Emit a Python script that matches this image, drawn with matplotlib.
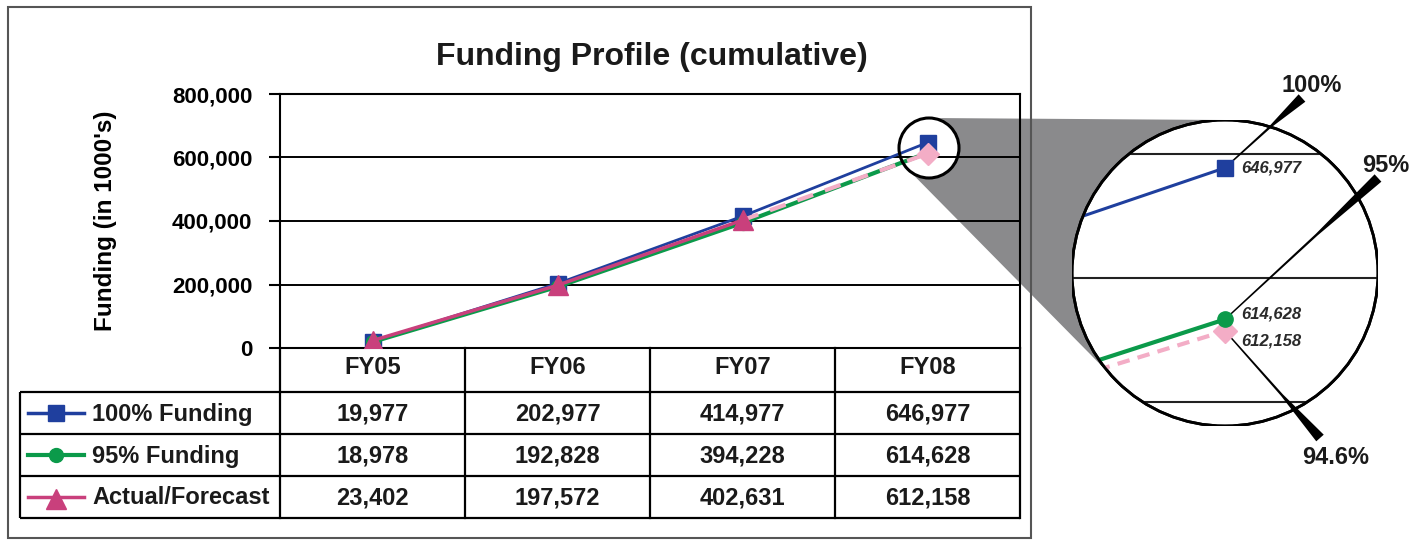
import numpy as np
import matplotlib
matplotlib.use('Agg')
import matplotlib.pyplot as plt
from matplotlib.patches import Circle, Polygon, Rectangle
from matplotlib.transforms import blended_transform_factory

plt.rcParams['font.family'] = ['Liberation Sans', 'DejaVu Sans']
plt.rcParams['font.weight'] = 'bold'
plt.rcParams['text.color'] = '#1a1a1a'

# data
years = ['FY05', 'FY06', 'FY07', 'FY08']
full_funding = [19977, 202977, 414977, 646977]
funding_95 = [18978, 192828, 394228, 614628]
actual = [23402, 197572, 402631, 612158]
n_actual = 3  # FY05-FY07 actual, FY08 forecast
series_names = ['100% Funding', '95% Funding', 'Actual/Forecast']
pct_labels = ['100%', '95%', '94.6%']
y_ticks = [0, 200000, 400000, 600000, 800000]
zoom_grid = [650000, 623500, 597000]

BLUE = '#1f3f9e'
GREEN = '#0b9a4a'
MAGENTA = '#c9407c'
PINK = '#f3adc6'

W, H = 1416, 540
fig = plt.figure(figsize=(W / 100, H / 100), dpi=100)


def box(l, t, r, b):
    return [l / W, 1 - b / H, (r - l) / W, (b - t) / H]


# pixel overlay (y down) for frame, table and magnifier wedge
bg = fig.add_axes([0, 0, 1, 1], zorder=0)
bg.set_xlim(0, W)
bg.set_ylim(H, 0)
bg.axis('off')

# magnifier geometry
c1, r1 = np.array([929., 148.]), 30.
c2, r2 = np.array([1225., 273.]), 153.
d = c2 - c1
D = np.hypot(*d)
phi = np.arctan2(d[1], d[0])
a = np.arccos((r1 - r2) / D)
n_up = np.array([np.cos(phi - a), np.sin(phi - a)])
n_dn = np.array([np.cos(phi + a), np.sin(phi + a)])
wedge = [c1 + r1 * n_up, c2 + r2 * n_up, c2 + r2 * n_dn, c1 + r1 * n_dn]
bg.add_patch(Polygon(wedge, closed=True, fc='#8a8a8c', ec='none', zorder=1))
bg.add_patch(Circle(c1, r1, fc='white', ec='none', zorder=2))
bg.add_patch(Circle(c2, r2, fc='white', ec='none', zorder=2))
bg.add_patch(Rectangle((8, 7), 1023, 531, fill=False, ec='#555555', lw=1.5, zorder=3))

# main chart
ax = fig.add_axes(box(280, 94, 1020, 348), zorder=1)
ax.patch.set_visible(False)
x = np.arange(len(years))

ax.plot(x, full_funding, color=BLUE, lw=2, marker='s', ms=11, zorder=3)
ax.plot(x, funding_95, color=GREEN, lw=3, marker='o', ms=10, zorder=3)
ax.plot(x[:n_actual], actual[:n_actual], color=MAGENTA, lw=2.5, marker='^', ms=14, zorder=4)
ax.plot(x[n_actual - 1:], actual[n_actual - 1:], color=PINK, lw=3, ls=(0, (4, 3)), zorder=3.5)
ax.plot(x[n_actual:], actual[n_actual:], color=PINK, marker='D', ms=11, ls='none', zorder=4)

ax.set_xlim(-0.5, 3.5)
ax.set_ylim(0, 800000)
ax.set_xticks([])
ax.set_yticks(y_ticks)
ax.set_yticklabels([f'{v:,}' for v in y_ticks], fontsize=16, fontweight='bold')
ax.tick_params(axis='y', length=8, width=1.5, pad=12)
ax.yaxis.grid(True, color='black', lw=1.4)
for s in ax.spines.values():
    s.set_linewidth(1.5)
ax.set_ylabel("Funding (in 1000's)", fontsize=17.5, fontweight='bold')
ax.yaxis.set_label_coords(-0.22, 0.5)

ax.add_patch(Circle(c1, r1, transform=bg.transData, fill=False, ec='black',
                    lw=2.2, zorder=6, clip_on=False))

fig.text(652 / W, 1 - 57 / H, 'Funding Profile (cumulative)', fontsize=23,
         fontweight='bold', ha='center', va='center')

# data table under the chart
T = blended_transform_factory(ax.transData, bg.transData)
head_y = 368
row_y = [413, 455, 497]
row_lines = [392, 434, 476, 518]
bg.hlines(row_lines, 20, 1020, color='black', lw=1.6, zorder=4)
bg.vlines(20, 392, 518, color='black', lw=1.6, zorder=4)
for xc in np.arange(-0.5, len(years), 1.0):
    ax.plot([xc, xc], [348, 518], transform=T, color='black', lw=1.6, clip_on=False)
for j, yr in enumerate(years):
    ax.text(x[j], head_y, yr, transform=T, ha='center', va='center', fontsize=17)

series = [full_funding, funding_95, actual]
styles = [(BLUE, 's', 11, 2.5), (GREEN, 'o', 10, 3), (MAGENTA, '^', 14, 2.5)]
for i, (name, vals, st) in enumerate(zip(series_names, series, styles)):
    col, mk, ms, lw = st
    bg.plot([28, 84], [row_y[i], row_y[i]], color=col, lw=lw, zorder=5)
    bg.plot([56], [row_y[i] + (2 if mk == '^' else 0)], color=col, marker=mk, ms=ms, zorder=5)
    bg.text(92, row_y[i] + 1, name, ha='left', va='center', fontsize=17)
    for j, v in enumerate(vals):
        ax.text(x[j], row_y[i] + 1, f'{v:,}', transform=T, ha='center', va='center', fontsize=17)

# magnified view of FY08
zin = fig.add_axes(box(c2[0] - r2, c2[1] - r2, c2[0] + r2, c2[1] + r2), zorder=2)
zin.axis('off')
zin.set_xlim(3 - 153 / 3200, 3 + 153 / 3200)
zin.set_ylim(591859, 657192)
ring = Circle((0.5, 0.5), 0.5, transform=zin.transAxes, fc='white', ec='black', lw=2, zorder=0)
zin.add_patch(ring)
clip = Circle((0.5, 0.5), 0.5, transform=zin.transAxes)
arts = []
arts.append(zin.hlines(zoom_grid, 2.9, 3.1, color='#222222', lw=1.5, zorder=1))
arts += zin.plot(x, full_funding, color=BLUE, lw=2.2, zorder=3)
arts += zin.plot(x, funding_95, color=GREEN, lw=3, zorder=3)
arts += zin.plot(x[n_actual - 1:], actual[n_actual - 1:], color=PINK, lw=3, ls=(0, (3, 2)), zorder=3)
for art in arts:
    art.set_clip_path(clip)
zin.plot(x[3:], full_funding[3:], color=BLUE, marker='s', ms=11, ls='none', zorder=5)
zin.plot(x[3:], funding_95[3:], color=GREEN, marker='o', ms=11, ls='none', zorder=5)
zin.plot(x[3:], actual[3:], color=PINK, marker='D', ms=12, ls='none', zorder=4)
ring_edge = Circle((0.5, 0.5), 0.5, transform=zin.transAxes, fill=False, ec='black', lw=2, zorder=6)
zin.add_patch(ring_edge)

label_shift = [0, 4, -7]
for vals, dy in zip(series, label_shift):
    zin.annotate(f'{vals[3]:,}', (3, vals[3]), xytext=(12, dy), textcoords='offset points',
                 ha='left', va='center', fontsize=12, fontstyle='italic', fontweight='bold',
                 color='#2a2a2a', zorder=7, annotation_clip=False)

# percent callouts
top = fig.add_axes([0, 0, 1, 1], zorder=3)
top.patch.set_visible(False)
top.set_xlim(0, W)
top.set_ylim(H, 0)
top.axis('off')

ends = [(1302, 98), (1378, 178), (1320, 438)]
label_pos = [(1312, 86), (1386, 165), (1336, 458)]
to_top = top.transData.inverted()
for vals, e, lp, txt in zip(series, ends, label_pos, pct_labels):
    s = to_top.transform(zin.transData.transform((3, vals[3])))
    e = np.array(e, dtype=float)
    u = (e - s) / np.hypot(*(e - s))
    nv = np.array([-u[1], u[0]])
    m = s + 0.6 * (e - s)
    poly = [s + 0.7 * nv, m + 1.2 * nv, e + 5 * nv, e - 5 * nv, m - 1.2 * nv, s - 0.7 * nv]
    zin.add_patch(Polygon(poly, closed=True, fc='black', ec='none', transform=top.transData,
                          zorder=2, clip_on=False))
    top.text(lp[0], lp[1], txt, ha='center', va='center', fontsize=17, fontweight='bold')

fig.savefig('out.png', dpi=100)
